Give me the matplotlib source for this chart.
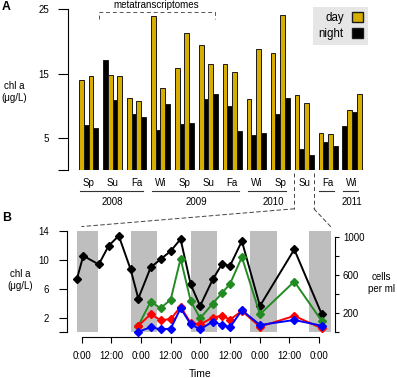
import matplotlib.pyplot as plt
from matplotlib.patches import ConnectionPatch, Patch

plt.rcParams['font.family'] = ['Liberation Sans', 'DejaVu Sans']

# Panel A data: chl a per sampling (four samplings per season, chronological)
seasons = ['Sp', 'Su', 'Fa', 'Wi', 'Sp', 'Su', 'Fa', 'Wi', 'Sp', 'Su', 'Fa', 'Wi']
years = ['2008', '2009', '2010', '2011']
chl_values = [14.0, 7.0, 14.6, 6.5,
              17.1, 14.8, 10.9, 14.7,
              11.2, 8.7, 10.7, 8.3,
              24.0, 6.2, 12.7, 10.3,
              15.9, 7.2, 21.3, 7.3,
              19.5, 11.0, 16.5, 11.9,
              16.5, 9.9, 15.3, 6.0,
              11.1, 5.5, 18.8, 5.8,
              18.2, 8.7, 24.1, 11.2,
              11.6, 3.3, 10.5, 2.4,
              5.7, 4.3, 5.6, 3.8,
              6.9, 9.3, 9.1, 11.9]
chl_period = ['day', 'night', 'day', 'night',
              'night', 'day', 'night', 'day'] + ['day', 'night'] * 18 + \
             ['night', 'day', 'night', 'day']

# Panel B data: diel series (hours from first midnight)
hours = [-2.0, 0.65, 6.9, 10.9, 15.0, 19.8, 22.9, 27.9, 31.9, 36.0,
         40.0, 44.1, 47.9, 53.0, 56.8, 60.0, 64.8, 72.1, 86.0, 97.1]
chl_diel = [7.28, 10.54, 9.35, 11.92, 13.3, 8.66, 4.65, 8.94, 10.06, 11.19,
            12.85, 6.59, 3.63, 7.28, 9.43, 9.16, 12.57, 3.63, 11.42, 2.49]
cell_hours = hours[6:]
cells_green = [69, 322, 253, 343, 772, 329, 147, 301, 414, 508, 789, 189, 533, 119]
cells_red = [69, 189, 129, 137, 269, 98, 84, 154, 175, 133, 224, 59, 172, 42]
cells_blue = [6, 53, 32, 38, 253, 84, 32, 112, 77, 53, 232, 77, 129, 69]
nights = [(-2.02, 6.7), (19.8, 30.6), (44.1, 54.6), (68.1, 78.9), (92.1, 100.85)]
time_ticks = [0, 12, 24, 36, 48, 60, 72, 84, 96]
time_labels = ['0:00', '12:00'] * 4 + ['0:00']

GOLD = '#D6AE00'
W, H = 397, 378


def fx(px):
    return px / W


def fy(py):
    return 1 - py / H


fig = plt.figure(figsize=(W / 100, H / 100), dpi=100)

# ---- Panel A ----
unit, x0 = 4.79, 79
axA = fig.add_axes([fx(68), fy(170), fx(370) - fx(68), fy(9.3) - fy(170)])
axA.set_xlim((68 - x0) / unit, (370 - x0) / unit)
axA.set_ylim(0, 25)
xs = [(k // 4) * 5 + k % 4 for k in range(len(chl_values))]
cols = [GOLD if p == 'day' else 'black' for p in chl_period]
axA.bar(xs, chl_values, width=1, align='edge', color=cols,
        edgecolor='#1a1a1a', linewidth=0.7)
for s in ['top', 'right', 'bottom']:
    axA.spines[s].set_visible(False)
axA.spines['left'].set_bounds(0, 25)
axA.spines['left'].set_linewidth(0.8)
axA.set_yticks([0, 5, 15, 25])
axA.set_yticklabels(['', '5', '15', '25'])
axA.tick_params(axis='y', length=7, width=0.8, pad=6.5, labelsize=7)
axA.set_xticks([])

ypp = 25 / (170 - 9.3)  # data units per pixel
for g, s in enumerate(seasons):
    axA.text(g * 5 + 2, -13 * ypp, s, ha='center', va='center', fontsize=7)

line_y = -21 * ypp
segs = [(0, 2), (3, 6), (7, 8), (10, 10), (11, 11)]
for a, b in segs:
    axA.plot([a * 5 + 0.2, b * 5 + 3.3], [line_y, line_y], color='#333333',
             lw=0.8, clip_on=False)
year_x = [7, 24.5, 40.5, 57]
for yr, xx in zip(years, year_x):
    axA.text(xx, -32 * ypp, yr, ha='center', va='center', fontsize=7)

# metatranscriptomes bracket
axA.plot([4.1, 4.1, 28.45, 28.45], [23.5, 24.63, 24.63, 23.5], ls=(0, (4, 3)),
         color='#555555', lw=0.7, clip_on=False)
axA.text(16.2, 25.7, 'metatranscriptomes', ha='center', va='center', fontsize=7)

# dashed box around Su 2010
for xx in (44.95, 49.05):
    axA.plot([xx, xx], [-3 * ypp, -38.8 * ypp], ls=(0, (4, 3)), color='#444444',
             lw=0.7, clip_on=False)

leg = axA.legend(handles=[Patch(facecolor=GOLD, edgecolor='#1a1a1a', label='day'),
                          Patch(facecolor='black', edgecolor='#1a1a1a', label='night')],
                 loc='upper right', bbox_to_anchor=(fx(368), fy(7)),
                 bbox_transform=fig.transFigure, borderaxespad=0, fontsize=8.3,
                 markerfirst=False, handlelength=0.95, handleheight=0.95,
                 handletextpad=0.7, labelspacing=0.3, borderpad=0.45,
                 fancybox=False, framealpha=1)
leg.get_frame().set_facecolor('#E6E6E6')
leg.get_frame().set_edgecolor('none')

# ---- Panel B ----
axB = fig.add_axes([fx(76.7), fy(332.3), fx(331) - fx(76.7), fy(230.7) - fy(332.3)])
axB.set_xlim(-2.02, 100.85)
axB.set_ylim(0, 14)
for a, b in nights:
    axB.axvspan(a, b, color='#BEBEBE', lw=0, zorder=0)
axB.plot(hours, chl_diel, color='black', marker='D', ms=3.6, lw=1.4,
         clip_on=False, zorder=3)
axB.spines['top'].set_visible(False)
axB.spines['right'].set_visible(False)
axB.spines['left'].set_position(('outward', 7.2))
axB.spines['left'].set_bounds(0, 14)
axB.spines['bottom'].set_position(('outward', 3.2))
axB.spines['bottom'].set_bounds(0, 96)
for s in ['left', 'bottom']:
    axB.spines[s].set_linewidth(0.8)
axB.set_yticks([0, 2, 6, 10, 14])
axB.set_yticklabels(['', '2', '6', '10', '14'])
axB.tick_params(axis='y', length=5.8, width=0.8, pad=7, labelsize=7)
axB.set_xticks(time_ticks)
axB.set_xticklabels(time_labels)
axB.tick_params(axis='x', length=4.3, width=0.8, pad=6, labelsize=7)

axR = axB.twinx()
axR.set_ylim(0, 1066)
for ys, c in [(cells_green, '#228B22'), (cells_red, '#FF0000'), (cells_blue, '#0000FF')]:
    axR.plot(cell_hours, ys, color=c, marker='D', ms=3.6, lw=1.4, clip_on=False)
for s in ['top', 'left', 'bottom']:
    axR.spines[s].set_visible(False)
axR.spines['right'].set_position(('outward', 2.9))
axR.spines['right'].set_bounds(0, 1000)
axR.spines['right'].set_linewidth(0.8)
axR.set_yticks([0, 200, 400, 600, 800, 1000])
axR.set_yticklabels(['', '200', '', '600', '', '1000'])
axR.tick_params(axis='y', length=3.2, width=0.8, pad=2.5, labelsize=7)

# connectors from Su 2010 to panel B
for xa, xb in [(44.95, 0.0), (49.05, 100.7)]:
    con = ConnectionPatch(xyA=(xa, -38.8 * ypp), coordsA=axA.transData,
                          xyB=(xb, 14.57), coordsB=axB.transData,
                          ls=(0, (4, 3)), color='#444444', lw=0.7)
    fig.add_artist(con)

# labels
fig.text(fx(14), fy(92), 'chl a\n(μg/L)', ha='center', va='center', fontsize=7,
         linespacing=1.3)
fig.text(fx(20), fy(280), 'chl a\n(μg/L)', ha='center', va='center', fontsize=7,
         linespacing=1.3)
fig.text(fx(381), fy(283), 'cells\nper ml', ha='center', va='center', fontsize=7,
         linespacing=1.3)
fig.text(fx(200), fy(374), 'Time', ha='center', va='center', fontsize=7.5)
fig.text(fx(2), fy(7.5), 'A', ha='left', va='center', fontsize=8.8, weight='bold')
fig.text(fx(2), fy(218.3), 'B', ha='left', va='center', fontsize=8.8, weight='bold')

fig.savefig('out.png', dpi=100)
